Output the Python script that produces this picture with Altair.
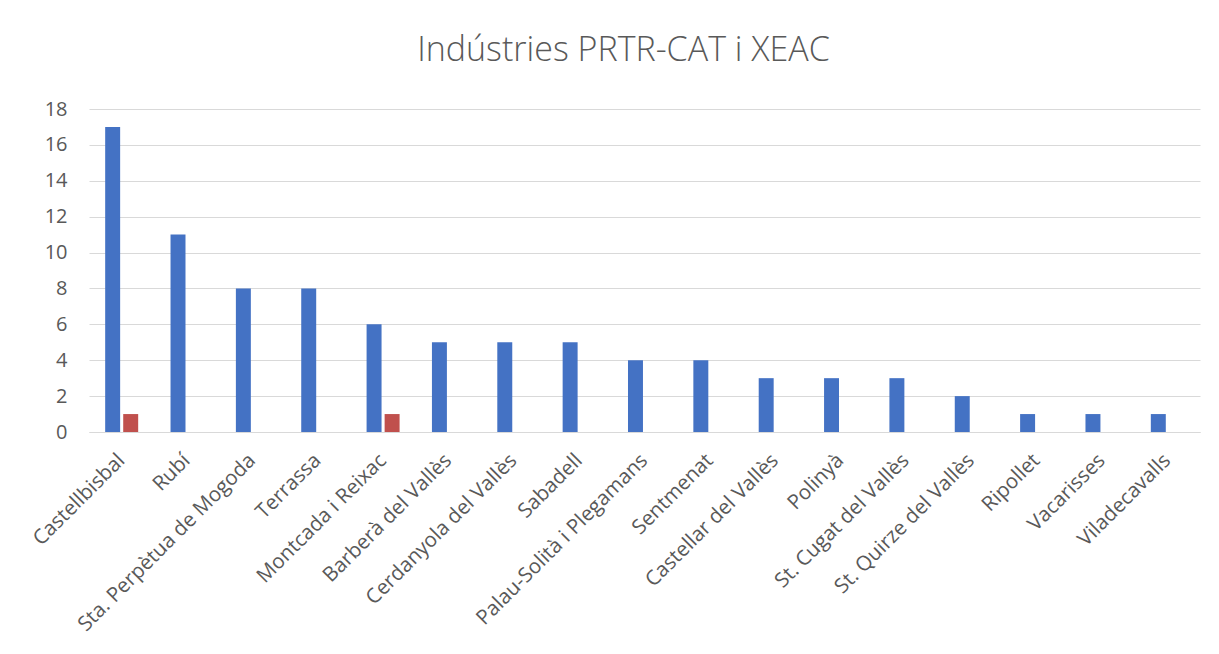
import altair as alt
import pandas as pd

municipis = [
    "Castellbisbal", "Rubí", "Sta. Perpètua de Mogoda", "Terrassa",
    "Montcada i Reixac", "Barberà del Vallès", "Cerdanyola del Vallès",
    "Sabadell", "Palau-Solità i Plegamans", "Sentmenat",
    "Castellar del Vallès", "Polinyà", "St. Cugat del Vallès",
    "St. Quirze del Vallès", "Ripollet", "Vacarisses", "Viladecavalls",
]
prtr_cat = [17, 11, 8, 8, 6, 5, 5, 5, 4, 4, 3, 3, 3, 2, 1, 1, 1]
xeac = [1, 0, 0, 0, 1, 0, 0, 0, 0, 0, 0, 0, 0, 0, 0, 0, 0]
series_names = ["PRTR-CAT", "XEAC"]
series_colors = ["#4472C4", "#C0504D"]
y_ticks = [0, 2, 4, 6, 8, 10, 12, 14, 16, 18]

rows = []
for m, a, b in zip(municipis, prtr_cat, xeac):
    rows.append({"Municipi": m, "Sèrie": series_names[0], "Valor": a})
    rows.append({"Municipi": m, "Sèrie": series_names[1], "Valor": b})
df = pd.DataFrame(rows)

FONT = "Open Sans"
GREY = "#595959"

chart = alt.Chart(df).mark_bar().encode(
    x=alt.X("Municipi:N", sort=municipis, title=None,
            scale=alt.Scale(paddingInner=0.495, paddingOuter=0.2475),
            axis=alt.Axis(labelAngle=-45, labelAlign="right",
                          labelBaseline="middle", labelFontSize=20.5,
                          labelColor=GREY, labelFont=FONT, ticks=False,
                          domainColor="#D9D9D9", labelPadding=25, grid=False,
                          labelLimit=400)),
    xOffset=alt.XOffset("Sèrie:N", sort=series_names,
                        scale=alt.Scale(paddingInner=0.17, paddingOuter=0)),
    y=alt.Y("Valor:Q", title=None,
            scale=alt.Scale(domain=[0, 18], nice=False),
            axis=alt.Axis(values=y_ticks, labelFontSize=20, labelColor=GREY,
                          labelFont=FONT, ticks=False, domain=False,
                          gridColor="#D9D9D9", gridWidth=1, labelPadding=22)),
    color=alt.Color("Sèrie:N", sort=series_names,
                    scale=alt.Scale(domain=series_names, range=series_colors),
                    legend=None),
).properties(
    width=1111,
    height=323,
    background="white",
    title=alt.TitleParams("Indústries PRTR-CAT i XEAC", fontSize=34,
                          font=FONT, color=GREY, fontWeight=300,
                          anchor="middle", frame="group", dx=-21,
                          baseline="alphabetic", offset=4),
    autosize=alt.AutoSizeParams(type="none"),
    padding={"left": 81, "top": 101, "right": 11, "bottom": 210},
).configure_view(stroke=None)

chart.save("out.html", embed_options={"renderer": "svg", "actions": False})
